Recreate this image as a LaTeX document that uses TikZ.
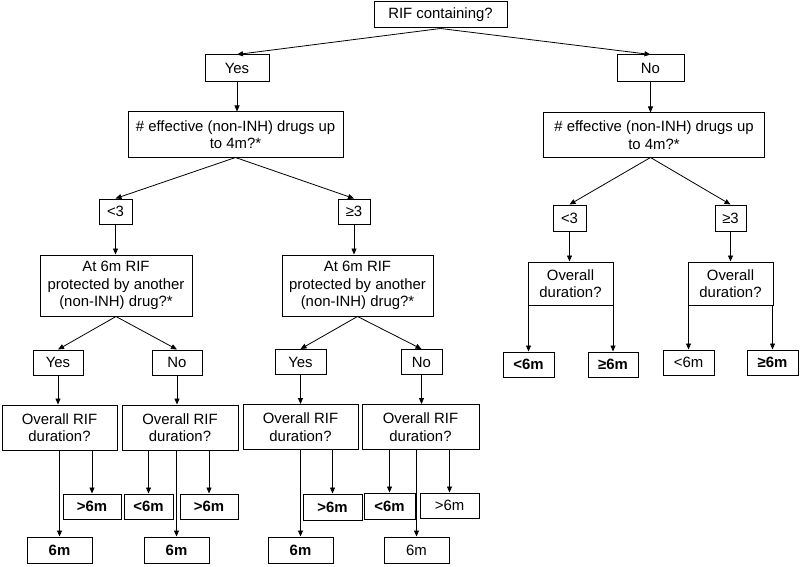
\documentclass[tikz,border=0pt]{standalone}
\usepackage{fontspec}
\setmainfont{Liberation Sans}
\usetikzlibrary{arrows.meta}
\begin{document}
\begin{tikzpicture}[x=1pt,y=-1pt,
  box/.style={draw, line width=1pt, inner sep=0pt, align=center,
    font=\fontsize{14.9}{17.5}\selectfont},
  bld/.style={font=\fontsize{14.9}{17.5}\selectfont\bfseries},
  wh/.style 2 args={minimum width=#1pt, minimum height=#2pt},
  arr/.style={line width=0.8pt, -{Triangle[length=6pt,width=5pt]}}
]
\useasboundingbox (0,0) rectangle (800,567);

% top
\node[box, wh={133}{26}] (root) at (440.5,15) {RIF containing?};
\node[box, wh={64}{27}] (yes1) at (237,68.5) {Yes};
\node[box, wh={67}{27}] (no1) at (650.5,68.5) {No};
\node[box, wh={215}{45}] (effL) at (235.5,134.5) {\# effective (non-INH) drugs up\\to 4m?*};
\node[box, wh={221}{44}] (effR) at (654,135) {\# effective (non-INH) drugs up\\to 4m?*};

% left subtree
\node[box, wh={33}{25}] (lt3L) at (115.5,211.5) {<3};
\node[box, wh={32}{25}] (ge3L) at (354,211.5) {≥3};
\node[box, wh={152}{61}] (at6L) at (116,285.5) {At 6m RIF\\protected by another\\(non-INH) drug?*};
\node[box, wh={151}{61}] (at6R) at (357.5,285.5) {At 6m RIF\\protected by another\\(non-INH) drug?*};
\node[box, wh={50}{25}] (yesLL) at (58,362.5) {Yes};
\node[box, wh={50}{25}] (noLR) at (177,362.5) {No};
\node[box, wh={51}{25}] (yesRL) at (300.5,362) {Yes};
\node[box, wh={41}{25}] (noRR) at (421.5,362) {No};

\node[box, wh={115}{45}] (ovLL) at (59.5,427.5) {Overall RIF\\duration?};
\node[box, wh={116}{45}] (ovLR) at (180,427.5) {Overall RIF\\duration?};
\node[box, wh={115}{45}] (ovRL) at (300.5,427) {Overall RIF\\duration?};
\node[box, wh={117}{45}] (ovRR) at (420.5,427) {Overall RIF\\duration?};

\node[box, bld, wh={58}{25}] (gtLL) at (92,506.5) {>6m};
\node[box, bld, wh={65}{26}] (sixLL) at (59.5,550) {6m};
\node[box, bld, wh={49}{25}] (ltLR) at (148.5,506.5) {<6m};
\node[box, bld, wh={58}{25}] (gtLR) at (209,506.5) {>6m};
\node[box, bld, wh={65}{26}] (sixLR) at (176.5,550) {6m};
\node[box, bld, wh={59}{26}] (gtRL) at (332.5,507) {>6m};
\node[box, bld, wh={65}{26}] (sixRL) at (300.5,550) {6m};
\node[box, bld, wh={51}{26}] (ltRR) at (389.5,506) {<6m};
\node[box, wh={59}{25}] (gtRR) at (449.5,505.5) {>6m};
\node[box, wh={65}{26}] (sixRR) at (416.5,550) {6m};

% right subtree
\node[box, wh={33}{26}] (lt3R) at (569.5,218) {<3};
\node[box, wh={31}{26}] (ge3R) at (730.5,218) {≥3};
\node[box, wh={85}{43}] (odR1) at (570.5,283.5) {Overall\\duration?};
\node[box, wh={85}{43}] (odR2) at (730.5,283.5) {Overall\\duration?};
\node[box, bld, wh={51}{25}] (ltR1) at (528.5,364.5) {<6m};
\node[box, bld, wh={50}{25}] (geR1) at (613,364.5) {≥6m};
\node[box, wh={51}{25}] (ltR2) at (688.5,362.5) {<6m};
\node[box, bld, wh={51}{25}] (geR2) at (772.5,362.5) {≥6m};

% connectors
\draw[arr] (root.south) -- (yes1.north);
\draw[arr] (root.south) -- (no1.north);
\draw[arr] (yes1.south) -- (yes1.south |- effL.north);
\draw[arr] (no1.south) -- (no1.south |- effR.north);
\draw[arr] (effL.south) -- (lt3L.north);
\draw[arr] (effL.south) -- (ge3L.north);
\draw[arr] (no1 |- effR.south) -- (lt3R.north);
\draw[arr] (no1 |- effR.south) -- (ge3R.north);

\draw[arr] (lt3L.south) -- (lt3L.south |- at6L.north);
\draw[arr] (ge3L.south) -- (ge3L.south |- at6R.north);
\draw[arr] (at6L.south) -- (yesLL.north);
\draw[arr] (at6L.south) -- (noLR.north);
\draw[arr] (at6R.south) -- (yesRL.north);
\draw[arr] (at6R.south) -- (noRR.north);
\draw[arr] (yesLL.south) -- (yesLL.south |- ovLL.north);
\draw[arr] (noLR.south) -- (noLR.south |- ovLR.north);
\draw[arr] (yesRL.south) -- (yesRL.south |- ovRL.north);
\draw[arr] (noRR.south) -- (noRR.south |- ovRR.north);

\draw[arr] (sixLL.north |- ovLL.south) -- (sixLL.north);
\draw[arr] (gtLL.north |- ovLL.south) -- (gtLL.north);
\draw[arr] (ltLR.north |- ovLR.south) -- (ltLR.north);
\draw[arr] (sixLR.north |- ovLR.south) -- (sixLR.north);
\draw[arr] (gtLR.north |- ovLR.south) -- (gtLR.north);
\draw[arr] (sixRL.north |- ovRL.south) -- (sixRL.north);
\draw[arr] (gtRL.north |- ovRL.south) -- (gtRL.north);
\draw[arr] (ltRR.north |- ovRR.south) -- (ltRR.north);
\draw[arr] (sixRR.north |- ovRR.south) -- (sixRR.north);
\draw[arr] (gtRR.north |- ovRR.south) -- (gtRR.north);

\draw[arr] (lt3R.south) -- (lt3R.south |- odR1.north);
\draw[arr] (ge3R.south) -- (ge3R.south |- odR2.north);
\draw[arr] (ltR1.north |- odR1.south) -- (ltR1.north);
\draw[arr] (geR1.north |- odR1.south) -- (geR1.north);
\draw[arr] (ltR2.north |- odR2.south) -- (ltR2.north);
\draw[arr] (geR2.north |- odR2.south) -- (geR2.north);
\end{tikzpicture}
\end{document}
